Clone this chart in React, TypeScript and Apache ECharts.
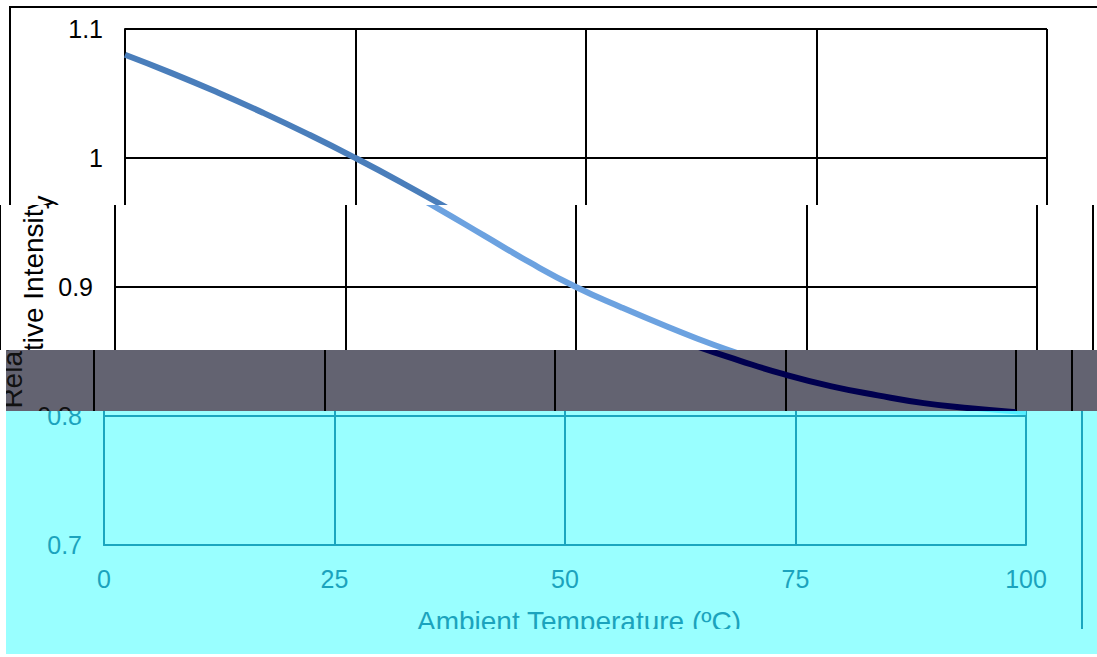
import React, { useEffect, useRef } from "react";
import * as echarts from "echarts";

const temperatures = [0, 5, 10, 15, 20, 25, 30, 35, 40, 45, 50, 55, 60, 65, 70, 75, 80, 85, 90, 95, 100];
const intensity = [1.08, 1.066, 1.051, 1.035, 1.018, 1.0, 0.981, 0.961, 0.94, 0.919, 0.9, 0.884, 0.869, 0.855, 0.843, 0.832, 0.823, 0.816, 0.81, 0.806, 0.803];
const xTicks = [0, 25, 50, 75, 100];
const yTicks = [0.7, 0.8, 0.9, 1.0, 1.1];
const xTitle = "Ambient Temperature (ºC)";
const yTitle = "Relative Intensity";

type Palette = { bg: string; grid: string; text: string; line: string };

const bands = [
  { top: 0, height: 205, left: 0, shift: 0, pal: { bg: "#ffffff", grid: "#000000", text: "#000000", line: "#4a7ebb" } },
  { top: 205, height: 145, left: 0, shift: -10, pal: { bg: "#ffffff", grid: "#000000", text: "#000000", line: "#6ca2e0" } },
  { top: 350, height: 61, left: 6, shift: -31, pal: { bg: "#636371", grid: "#000000", text: "#111111", line: "#00004f" } },
  { top: 411, height: 218, left: 6, shift: -21, pal: { bg: "#99ffff", grid: "#1ba6bf", text: "#1ba3bd", line: "#55eeff" } },
];

function buildOption(p: Palette) {
  const font = "'Liberation Sans', Arial, sans-serif";
  return {
    animation: false,
    backgroundColor: p.bg,
    grid: { left: 125, top: 29, width: 922, height: 516, containLabel: false },
    graphic: [
      {
        type: "rect",
        shape: { x: 10, y: 7, width: 1093, height: 640 },
        style: { fill: "none", stroke: p.grid, lineWidth: 2 },
        silent: true,
      },
    ],
    xAxis: {
      type: "value",
      min: xTicks[0],
      max: xTicks[xTicks.length - 1],
      interval: xTicks[1] - xTicks[0],
      name: xTitle,
      nameLocation: "middle",
      nameGap: 62,
      nameTextStyle: { fontSize: 28, color: p.text, fontFamily: font, padding: [0, 0, 0, 28] },
      axisLine: { show: true, lineStyle: { color: p.grid, width: 2 } },
      axisTick: { show: false },
      splitLine: { show: true, lineStyle: { color: p.grid, width: 2 } },
      axisLabel: { fontSize: 25, color: p.text, fontFamily: font, margin: 21 },
    },
    yAxis: {
      type: "value",
      min: yTicks[0],
      max: yTicks[yTicks.length - 1],
      interval: 0.1,
      name: yTitle,
      nameLocation: "middle",
      nameGap: 68,
      nameRotate: 90,
      nameTextStyle: { fontSize: 28, color: p.text, fontFamily: font, padding: [0, 30, 0, 0] },
      axisLine: { show: true, lineStyle: { color: p.grid, width: 2 } },
      axisTick: { show: false },
      splitLine: { show: true, lineStyle: { color: p.grid, width: 2 } },
      axisLabel: {
        fontSize: 25,
        color: p.text,
        fontFamily: font,
        margin: 22,
        formatter: (v: number) => String(Math.round(v * 10) / 10),
      },
    },
    series: [
      {
        type: "line",
        smooth: true,
        showSymbol: false,
        data: temperatures.map((t, i) => [t, intensity[i]]),
        lineStyle: { color: p.line, width: 6 },
      },
    ],
  };
}

function BandChart({ pal }: { pal: Palette }) {
  const ref = useRef<HTMLDivElement>(null);
  useEffect(() => {
    if (!ref.current) return;
    const chart = echarts.init(ref.current, undefined, { renderer: "svg" });
    chart.setOption(buildOption(pal));
    return () => chart.dispose();
  }, [pal]);
  return <div ref={ref} style={{ width: 1130, height: 657 }} />;
}

export default function App() {
  return (
    <div style={{ position: "fixed", left: 0, top: 0, width: 1097, height: 657, background: "#ffffff", overflow: "hidden" }}>
      {bands.map((b, i) => (
        <div
          key={i}
          style={{
            position: "absolute",
            left: b.left,
            top: b.top,
            width: 1097 - b.left,
            height: b.height,
            overflow: "hidden",
            background: b.pal.bg,
          }}
        >
          <div style={{ position: "absolute", left: b.shift - b.left, top: -b.top }}>
            <BandChart pal={b.pal} />
          </div>
        </div>
      ))}
      <div style={{ position: "absolute", left: 6, top: 629, width: 1091, height: 25, background: "#99ffff" }} />
    </div>
  );
}
